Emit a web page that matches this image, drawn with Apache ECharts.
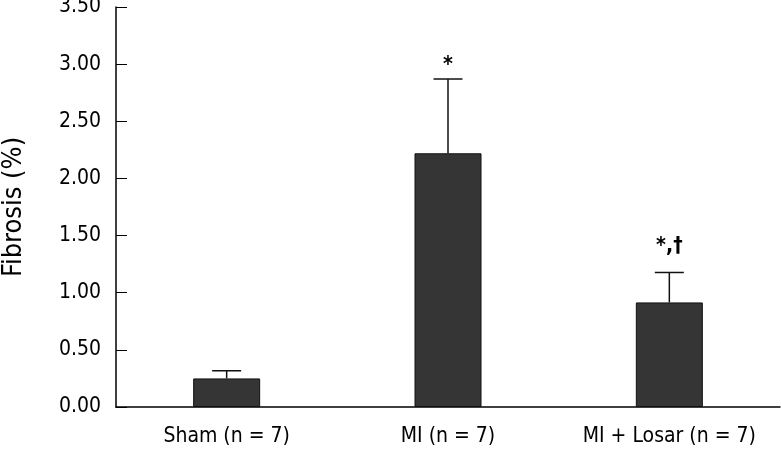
<!doctype html>
<html lang="en">
    <head>
        <meta charset="UTF-8">
        <title>Fibrosis</title>
        <style>
            html, body { margin: 0; padding: 0; background: #fff; }
            #main { width: 781px; height: 454px; }
        </style>
    </head>
    <body>
        <div id="main"></div>
        <script src="https://cdn.jsdelivr.net/npm/echarts@6/dist/echarts.min.js"></script>
        <script type="text/javascript">
        // 数据
        var categories = ['Sham (n = 7)', 'MI (n = 7)', 'MI + Losar (n = 7)'];
        var means = [0.25, 2.22, 0.915];
        var upperErr = [0.067, 0.65, 0.262];
        var marks = ['', '*', '*,\u2020'];
        var yTicks = [0, 0.5, 1, 1.5, 2, 2.5, 3, 3.5];

        var font = '"DejaVu Sans Condensed", sans-serif';
        var myChart = echarts.init(document.getElementById('main'));

        var errData = [];
        for (var i = 0; i < categories.length; i++) {
            errData.push([i, means[i], means[i] + upperErr[i], marks[i]]);
        }

        var option = {
            animation: false,
            grid: {
                left: 116,
                right: 1,
                top: 7,
                bottom: 47,
                outerBoundsMode: 'none',
                containLabel: false
            },
            xAxis: {
                type: 'category',
                data: categories,
                axisLine: { lineStyle: { color: '#000', width: 1.5 } },
                axisTick: { inside: true, length: 11, lineStyle: { color: '#000', width: 1 } },
                axisLabel: { interval: 0, color: '#000', fontFamily: font, fontSize: 21, margin: 19 }
            },
            yAxis: {
                type: 'value',
                min: yTicks[0],
                max: yTicks[yTicks.length - 1],
                interval: 0.5,
                name: 'Fibrosis (%)',
                nameLocation: 'middle',
                nameGap: 89,
                nameTextStyle: { color: '#000', fontFamily: font, fontSize: 27 },
                axisLine: { show: true, lineStyle: { color: '#000', width: 1.5 } },
                axisTick: { show: true, inside: true, length: 11, lineStyle: { color: '#000', width: 1 } },
                axisLabel: {
                    color: '#000', fontFamily: font, fontSize: 21, margin: 15,
                    formatter: function (v) { return v.toFixed(2); }
                },
                splitLine: { show: false }
            },
            series: [
                {
                    type: 'bar',
                    data: means,
                    barWidth: 67,
                    itemStyle: { color: '#353535', borderColor: '#111', borderWidth: 1 }
                },
                {
                    type: 'custom',
                    data: errData,
                    z: 5,
                    renderItem: function (params, api) {
                        var base = api.coord([api.value(0), api.value(1)]);
                        var top = api.coord([api.value(0), api.value(2)]);
                        var mark = errData[params.dataIndex][3];
                        var half = 14.5;
                        var children = [
                            { type: 'line', shape: { x1: base[0], y1: base[1], x2: top[0], y2: top[1] },
                              style: { stroke: '#111', lineWidth: 1.5 } },
                            { type: 'line', shape: { x1: top[0] - half, y1: top[1], x2: top[0] + half, y2: top[1] },
                              style: { stroke: '#111', lineWidth: 1.5 } }
                        ];
                        if (mark) {
                            // 带†的标记在原图里离误差线更远
                            var gap = mark.indexOf('\u2020') >= 0 ? 15 : 3;
                            children.push({
                                type: 'text',
                                style: {
                                    text: mark, x: top[0], y: top[1] - gap,
                                    align: 'center', verticalAlign: 'bottom',
                                    fill: '#000', font: 'bold 21px ' + font
                                }
                            });
                        }
                        return { type: 'group', children: children };
                    }
                }
            ]
        };
        myChart.setOption(option);
        </script>
    </body>
</html>
